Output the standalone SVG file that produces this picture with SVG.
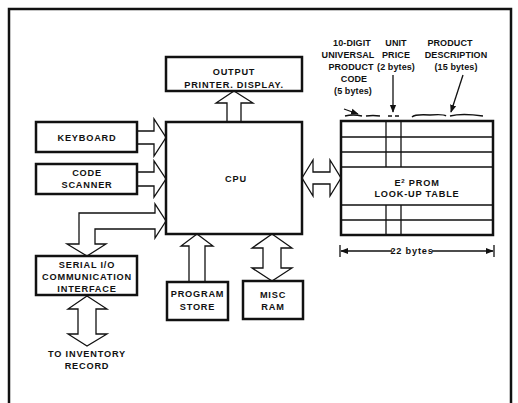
<svg xmlns="http://www.w3.org/2000/svg" width="518" height="403" viewBox="0 0 518 403">
<defs>
<style>
.box{fill:#fff;stroke:#111;stroke-width:2.5}
.arr{fill:#fff;stroke:#111;stroke-width:1.3;stroke-linejoin:miter}
.ln{stroke:#111;stroke-width:1.3;fill:none}
text{font-family:"Liberation Sans",Arial,sans-serif;font-weight:bold;font-size:9.2px;fill:#111;text-anchor:middle;letter-spacing:0.8px}
.lbl{font-size:9px;letter-spacing:0.1px}
</style>
<marker id="ah" viewBox="0 0 10 10" refX="9" refY="5" markerWidth="6" markerHeight="6" orient="auto"><path d="M0,1 L10,5 L0,9 z" fill="#111"/></marker>
</defs>
<rect width="518" height="403" fill="#fff"/>
<path d="M9,403 V9 H511 V403" fill="none" stroke="#111" stroke-width="2.5"/>

<g id="connectors">
<polygon class="arr" points="234,91 253,103 241,103 241,122 227,122 227,103 216,103"/>
<polygon class="arr" points="137,131 154,131 154,119 166,137.5 154,156 154,144 137,144"/>
<polygon class="arr" points="137,172 154,172 154,161 166,179 154,197 154,186 137,186"/>
<polygon class="arr" points="166,221 155,238 155,229 95,229 95,244 106,244 87,256 67,244 79,244 79,213 155,213 155,204"/>
<polygon class="arr" points="87,296 107,309 96,309 96,334 107,334 87,346 68,334 78,334 78,309 68,309"/>
<polygon class="arr" points="197,234 213,246 205,246 205,282 189,282 189,246 181,246"/>
<polygon class="arr" points="272,234 292,248 281,248 281,268 292,268 272,281 252,268 263,268 263,248 252,248"/>
<polygon class="arr" points="302,178 313,160 313,172 330,172 330,160 341,178 330,196 330,184 313,184 313,196"/>
</g>

<g id="output"><rect class="box" x="166" y="57" width="136" height="34"/>
<text x="234" y="75">OUTPUT</text><text x="234" y="88">PRINTER. DISPLAY.</text></g>

<g id="cpu"><rect class="box" x="166" y="122" width="136" height="112" stroke-width="2"/>
<text x="236" y="182">CPU</text></g>

<g id="keyboard"><rect class="box" x="36" y="122" width="101" height="30"/>
<text x="87" y="141">KEYBOARD</text></g>

<g id="scanner"><rect class="box" x="36" y="164" width="101" height="30"/>
<text x="87" y="176">CODE</text><text x="87" y="188">SCANNER</text></g>

<g id="serial"><rect class="box" x="36" y="256" width="101" height="39"/>
<text x="87" y="268">SERIAL I/O</text><text x="87" y="280">COMMUNICATION</text><text x="87" y="292">INTERFACE</text></g>

<g id="inventory"><text x="87" y="357">TO INVENTORY</text><text x="87" y="369">RECORD</text></g>

<g id="program"><rect class="box" x="167" y="282" width="61" height="38"/>
<text x="197.5" y="297" letter-spacing="0.2">PROGRAM</text><text x="197.5" y="310">STORE</text></g>

<g id="miscram"><rect class="box" x="243" y="281" width="60" height="38"/>
<text x="273" y="298">MISC</text><text x="273" y="310">RAM</text></g>

<g id="table">
<rect class="box" x="341" y="121" width="152" height="114"/>
<path class="ln" d="M341,137H493M341,152H493M341,167H493M341,205H493M341,220H493M386,121V167M401,121V167M386,205V235M401,205V235"/>
<text x="417" y="186">E<tspan font-size="6" dy="-3">2</tspan><tspan dy="3"> PROM</tspan></text>
<text x="417" y="197">LOOK-UP TABLE</text>
</g>

<g id="dimension">
<path class="ln" d="M340,245V257M494,245V257"/>
<path class="ln" d="M392,251H341" marker-end="url(#ah)"/>
<path class="ln" d="M432,251H493" marker-end="url(#ah)"/>
<text x="412" y="254" letter-spacing="0.4">22 bytes</text>
</g>

<g id="labels">
<text class="lbl" x="352" y="46">10-DIGIT</text>
<text class="lbl" x="348" y="58">UNIVERSAL</text>
<text class="lbl" x="351" y="70">PRODUCT</text>
<text class="lbl" x="354" y="82">CODE</text>
<text class="lbl" x="353" y="94">(5 bytes)</text>
<text class="lbl" x="396" y="46">UNIT</text>
<text class="lbl" x="396" y="58">PRICE</text>
<text class="lbl" x="396" y="70">(2 bytes)</text>
<text class="lbl" x="450" y="46">PRODUCT</text>
<text class="lbl" x="456" y="58">DESCRIPTION</text>
<text class="lbl" x="456" y="70">(15 bytes)</text>
<path class="ln" d="M393,75V112" marker-end="url(#ah)"/>
<path class="ln" d="M463,75L451,112" marker-end="url(#ah)"/>
<path class="ln" d="M344,109L358,114" marker-end="url(#ah)"/>
<path class="ln" d="M345,116Q353,114 362,116M366,116Q373,115 380,116M388,116H392M395,116H399M412,117Q415,114 430,115Q444,114 446,116M450,116Q462,113 483,116"/>
</g>
</svg>
